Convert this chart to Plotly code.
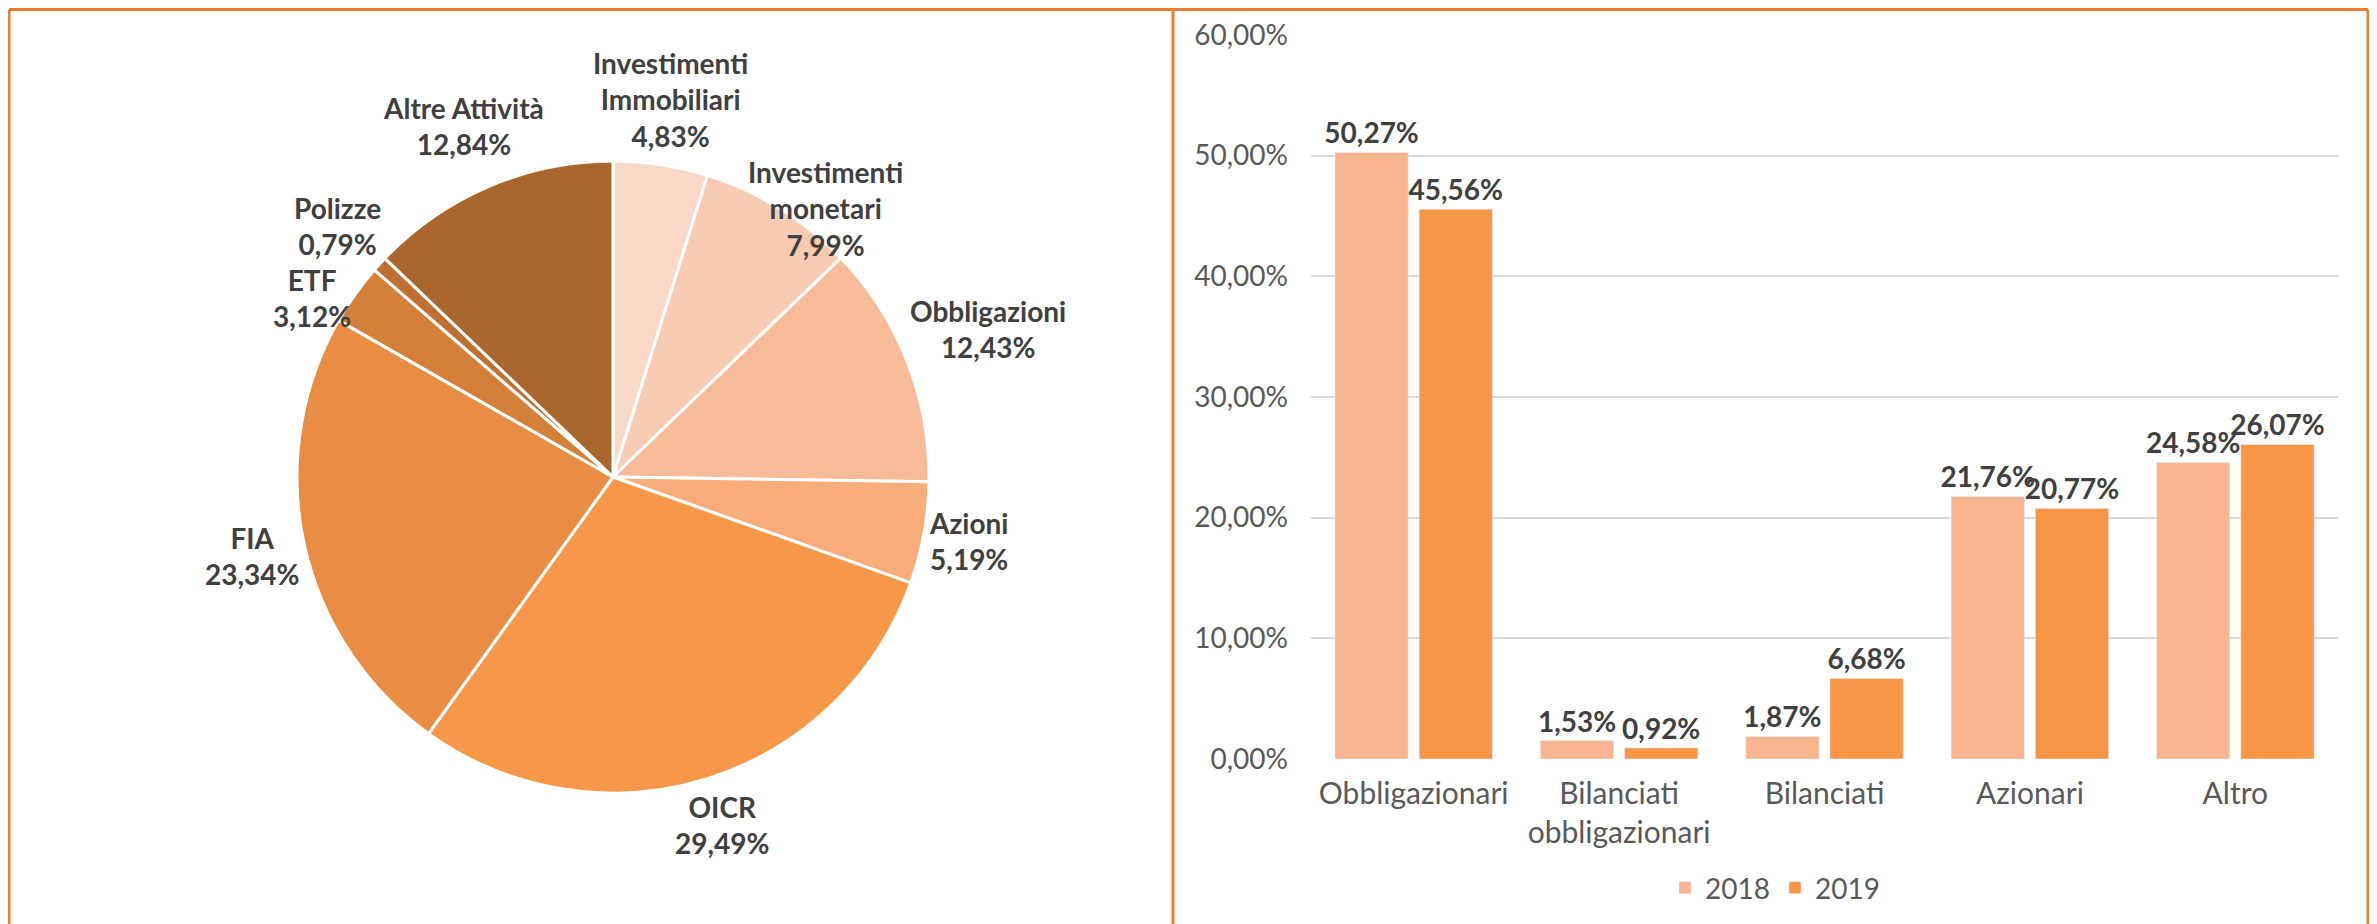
import math
import plotly.graph_objects as go

W, H = 2377, 924
PAGE_OFFSET = 8  # default body margin of the written html page

# ---------------- data ----------------
pie_labels = ["Investimenti<br>Immobiliari", "Investimenti<br>monetari", "Obbligazioni",
              "Azioni", "OICR", "FIA", "ETF", "Polizze", "Altre Attività"]
pie_values = [4.83, 7.99, 12.43, 5.19, 29.49, 23.34, 3.12, 0.79, 12.84]
pie_colors = ["#FAD8C8", "#F8CBB3", "#F8BB98", "#F7AC7A", "#F69749",
              "#E88D43", "#D5803A", "#BF6F30", "#A9662D"]

bar_categories = ["Obbligazionari", "Bilanciati<br>obbligazionari", "Bilanciati", "Azionari", "Altro"]
values_2018 = [50.27, 1.53, 1.87, 21.76, 24.58]
values_2019 = [45.56, 0.92, 6.68, 20.77, 26.07]
series_names = ["2018", "2019"]
series_colors = ["#F8B590", "#F79646"]
y_ticks = [0, 10, 20, 30, 40, 50, 60]

FONT = "Lato"
DARK = "#404040"
GREY = "#595959"
BORDER = "#ED7D31"
FS = 28


def fmt_it(v):
    return f"{v:.2f}".replace(".", ",") + "%"


def px_x(v):
    return (v - PAGE_OFFSET) / W


def px_y(v):
    return (H - (v - PAGE_OFFSET)) / H


# pie geometry (screen pixels)
PIE_CX, PIE_CY, PIE_R = 613, 477, 316

fig = go.Figure()

fig.add_trace(go.Pie(
    labels=pie_labels,
    values=pie_values,
    sort=False,
    direction="clockwise",
    rotation=0,
    marker=dict(colors=pie_colors, line=dict(color="white", width=3)),
    textinfo="none",
    domain=dict(x=[px_x(PIE_CX - PIE_R), px_x(PIE_CX + PIE_R)],
                y=[px_y(PIE_CY + PIE_R), px_y(PIE_CY - PIE_R)]),
    showlegend=False,
    hoverinfo="label+value",
))

# ---- outside pie labels, positioned from slice mid-angles ----
CHAR_W = {"A": .69, "I": .30, "P": .60, "E": .58, "T": .60, "F": .57, "O": .76, "C": .67,
          "R": .63, "a": .52, "b": .57, "e": .53, "g": .52, "i": .27, "l": .27, "m": .87,
          "n": .58, "o": .57, "r": .38, "s": .43, "t": .37, "v": .52, "z": .46, "à": .52,
          ",": .23, "%": .80, " ": .25}


def text_w(s):
    return sum(CHAR_W.get(ch, .58) for ch in s) * FS


LINE_H = 1.3 * FS
total = sum(pie_values)
boxes = []
cum = 0.0
for lab, val in zip(pie_labels, pie_values):
    mid = (cum + val / 2) / total
    cum += val
    th = 2 * math.pi * mid
    lines = lab.split("<br>") + [fmt_it(val)]
    bw = max(text_w(l) for l in lines)
    bh = len(lines) * LINE_H
    d = PIE_R + bw / 2 * abs(math.sin(th)) + bh / 2 * abs(math.cos(th))
    cx = PIE_CX + d * math.sin(th)
    cy = PIE_CY - d * math.cos(th)
    boxes.append(dict(text="<br>".join(lines), cx=cx, cy=cy, w=bw, h=bh,
                      side=1 if math.sin(th) >= 0 else -1))

# resolve overlaps: push lower label down on each side
for side in (1, -1):
    group = sorted([b for b in boxes if b["side"] == side], key=lambda b: b["cy"])
    for prev, cur in zip(group, group[1:]):
        xover = abs(cur["cx"] - prev["cx"]) < (cur["w"] + prev["w"]) / 2
        need = prev["cy"] + prev["h"] / 2 + cur["h"] / 2
        if xover and cur["cy"] < need:
            cur["cy"] = need

annotations = []
for b in boxes:
    annotations.append(dict(
        text=b["text"], x=px_x(b["cx"]), y=px_y(b["cy"]), xref="paper", yref="paper",
        xanchor="center", yanchor="middle", align="center", showarrow=False,
        font=dict(family=FONT, size=FS, color=DARK, weight="bold"),
    ))

for name, vals, col in zip(series_names, [values_2018, values_2019], series_colors):
    fig.add_trace(go.Bar(
        x=bar_categories, y=vals, name=name,
        marker=dict(color=col),
        text=[fmt_it(v) for v in vals],
        texttemplate="%{text}",
        textposition="outside",
        constraintext="none",
        cliponaxis=False,
        textfont=dict(family=FONT, size=FS, color=DARK, weight="bold"),
        xaxis="x", yaxis="y",
    ))

shapes = []
line = dict(color=BORDER, width=3)
TOP = 9.5  # highest screen row reachable inside the figure
shapes.append(dict(type="line", xref="paper", yref="paper",
                   x0=px_x(9), x1=px_x(2368), y0=px_y(TOP), y1=px_y(TOP), line=line))
for xv in [9, 1173, 2368]:
    shapes.append(dict(type="line", xref="paper", yref="paper",
                       x0=px_x(xv), x1=px_x(xv), y0=px_y(TOP), y1=-0.05, line=line))

fig.update_layout(
    width=W, height=H,
    margin=dict(l=0, r=0, t=0, b=0, autoexpand=False),
    paper_bgcolor="white", plot_bgcolor="white",
    font=dict(family=FONT, size=FS, color=GREY),
    barmode="group", bargap=0.18, bargroupgap=0.13,
    xaxis=dict(domain=[px_x(1311), px_x(2338)], showgrid=False, showline=False,
               tickfont=dict(family=FONT, size=30, color=GREY), ticks="",
               ticklabelstandoff=14, automargin=False),
    yaxis=dict(domain=[px_y(759), px_y(35)], range=[0, 60], tickmode="array",
               tickvals=y_ticks, ticktext=[fmt_it(v) for v in y_ticks],
               showgrid=True, gridcolor="#D9D9D9",
               gridwidth=2, zeroline=False, showline=False, ticks="",
               ticklabelstandoff=22, automargin=False,
               tickfont=dict(family=FONT, size=FS, color=GREY)),
    legend=dict(orientation="h", x=px_x(1775), xanchor="center", y=px_y(888),
                yanchor="middle", font=dict(family=FONT, size=FS, color=GREY),
                bgcolor="rgba(0,0,0,0)"),
    annotations=annotations,
    shapes=shapes,
)

fig.write_html("out.html")
